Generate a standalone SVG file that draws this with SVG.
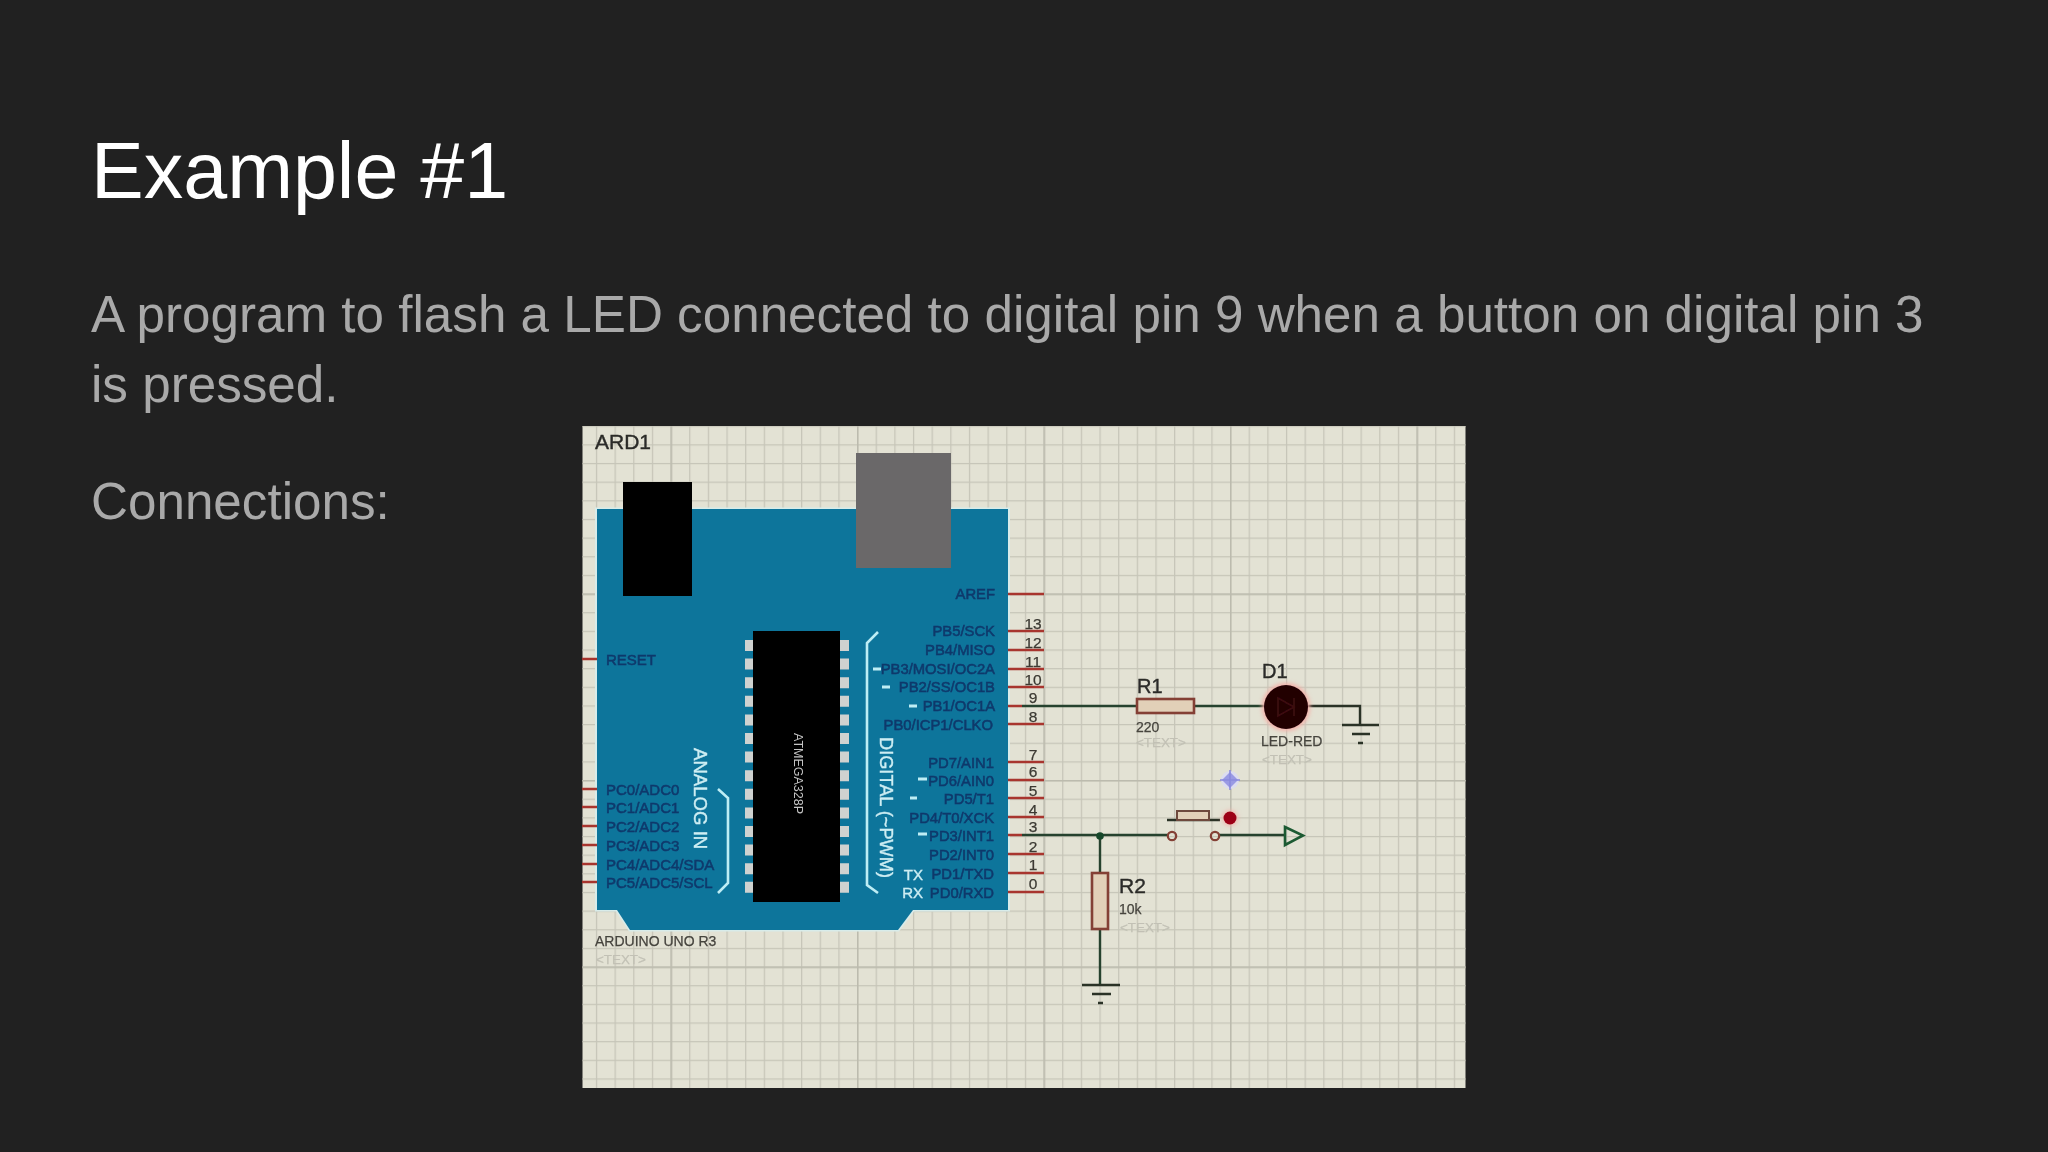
<svg xmlns="http://www.w3.org/2000/svg" width="2048" height="1152" viewBox="0 0 2048 1152">
<style>
text{font-family:"Liberation Sans",Arial,sans-serif}
.title{font-size:79px;fill:#fff}
.body{font-size:51.200px;fill:#a9a9a9}
.pn{font-size:14.8px;fill:#0a3a6c;stroke:#0a3a6c;stroke-width:.55;text-anchor:end}
.pl{font-size:15px;fill:#0a3a6c;stroke:#0a3a6c;stroke-width:.55}
.num{font-size:15.500px;fill:#3c3a33;stroke:#3c3a33;stroke-width:.25;text-anchor:middle}
.lab{font-size:14px;fill:#46443e;stroke:#46443e;stroke-width:.25}
.ref{fill:#2c2c29;stroke:#2c2c29;stroke-width:.4}
.ph{font-size:13.4px;fill:#c2c1b5;stroke:#c2c1b5;stroke-width:.25}
.wh{fill:#cdeef3;stroke:#cdeef3;stroke-width:.4}
.pin{stroke:#a8362e;stroke-width:2.6;fill:none}
.wire{stroke:#26432d;stroke-width:2.4;fill:none}
.dark{stroke:#2b3027;stroke-width:2.4;fill:none}
.br{stroke:#bdeef5;stroke-width:2.6;fill:none}
.pad{fill:#cfd2d0}
.dash{stroke:#bdeef5;stroke-width:3}
.res{fill:#e2d0b8;stroke:#843f36;stroke-width:2.6}
</style>
<defs>
<pattern id="fine" patternUnits="userSpaceOnUse" x="577.25" y="425.65" width="18.65" height="18.65"><path d="M0.5 0V18.65M0 0.5H18.65" fill="none" stroke="#c6c5b8" stroke-width="1.5"/></pattern>
<pattern id="major" patternUnits="userSpaceOnUse" x="484" y="407" width="186.5" height="186.5"><path d="M0.7 0V186.5M0 0.7H186.5" fill="none" stroke="#bcbbae" stroke-width="1.6"/></pattern>
<filter id="soft" x="-5%" y="-5%" width="110%" height="110%"><feGaussianBlur stdDeviation="0.7"/></filter>
<filter id="glow" x="-60%" y="-60%" width="220%" height="220%"><feGaussianBlur stdDeviation="2"/></filter>
</defs>
<rect width="2048" height="1152" fill="#212121"/>
<text class="title" x="91" y="198">Example #1</text>
<text class="body" x="91" y="331.500">A program to flash a LED connected to digital pin 9 when a button on digital pin 3</text>
<text class="body" x="91" y="402">is pressed.</text>
<text class="body" x="91" y="519">Connections:</text>
<g id="schematic" filter="url(#soft)">
<rect x="582.5" y="426" width="883" height="662" fill="#e3e2d4"/>
<rect x="582.5" y="426" width="883" height="662" fill="url(#fine)"/>
<rect x="582.500" y="426" width="883" height="662" fill="url(#major)"/>
<text id="ard1-ref" class="ref" x="595" y="449" font-size="21">ARD1</text>
<g id="arduino">
<path d="M595 507.500H1010V911.500H914L899 931.500H629L616 911.500H595Z" fill="#d8ecea"/>
<path d="M597 509H1008V910H913L898 930H630L617 910H597Z" fill="#11749b"/>
<rect x="623" y="482" width="69" height="114" fill="#000"/>
<rect x="856" y="453" width="95" height="115" fill="#6b6869"/>
<g class="pad">
<path d="M745 640h11v11h-11zM745 658.6h11v11h-11zM745 677.2h11v11h-11zM745 695.8h11v11h-11zM745 714.4h11v11h-11zM745 733h11v11h-11zM745 751.6h11v11h-11zM745 770.2h11v11h-11zM745 788.8h11v11h-11zM745 807.4h11v11h-11zM745 826h11v11h-11zM745 844.6h11v11h-11zM745 863.2h11v11h-11zM745 881.8h11v11h-11z"/>
<path d="M838 640h11v11h-11zM838 658.6h11v11h-11zM838 677.2h11v11h-11zM838 695.8h11v11h-11zM838 714.4h11v11h-11zM838 733h11v11h-11zM838 751.6h11v11h-11zM838 770.2h11v11h-11zM838 788.8h11v11h-11zM838 807.4h11v11h-11zM838 826h11v11h-11zM838 844.6h11v11h-11zM838 863.2h11v11h-11zM838 881.8h11v11h-11z"/>
</g>
<rect x="753" y="631" width="87" height="271" fill="#000"/>
<text transform="translate(794 733) rotate(90)" font-size="12.500" fill="#c4c4c4">ATMEGA328P</text>
<text transform="translate(694 748) rotate(90)" font-size="18.600" class="wh">ANALOG IN</text>
<text transform="translate(880 737) rotate(90)" font-size="18.200" class="wh">DIGITAL (~PWM)</text>
<path class="br" d="M878 632L867 643V885L878 893"/>
<path class="br" d="M718 789L728 798V883L718 893"/>
<path class="dash" d="M873 669h8M882 687h8M909 706h8M918 779h9M910 798h7M918 834h9"/>
<text class="wh" x="923" y="880" font-size="15" text-anchor="end">TX</text>
<text class="wh" x="923" y="898" font-size="15" text-anchor="end">RX</text>
<text class="pn" x="995" y="599">AREF</text>
<text class="pn" x="995" y="636">PB5/SCK</text>
<text class="pn" x="995" y="655">PB4/MISO</text>
<text class="pn" x="995" y="674">PB3/MOSI/OC2A</text>
<text class="pn" x="995" y="692">PB2/SS/OC1B</text>
<text class="pn" x="995" y="711">PB1/OC1A</text>
<text class="pn" x="993" y="730">PB0/ICP1/CLKO</text>
<text class="pn" x="994" y="768">PD7/AIN1</text>
<text class="pn" x="994" y="786">PD6/AIN0</text>
<text class="pn" x="994" y="804">PD5/T1</text>
<text class="pn" x="994" y="823">PD4/T0/XCK</text>
<text class="pn" x="994" y="841">PD3/INT1</text>
<text class="pn" x="994" y="860">PD2/INT0</text>
<text class="pn" x="994" y="879">PD1/TXD</text>
<text class="pn" x="994" y="898">PD0/RXD</text>
<text class="pl" x="606" y="665">RESET</text>
<text class="pl" x="606" y="795">PC0/ADC0</text>
<text class="pl" x="606" y="813">PC1/ADC1</text>
<text class="pl" x="606" y="832">PC2/ADC2</text>
<text class="pl" x="606" y="851">PC3/ADC3</text>
<text class="pl" x="606" y="870">PC4/ADC4/SDA</text>
<text class="pl" x="606" y="888">PC5/ADC5/SCL</text>
<path class="pin" d="M1008 594H1044M1008 631H1044M1008 650H1044M1008 669H1044M1008 687H1044M1008 724H1044M1008 762H1044M1008 780H1044M1008 798H1044M1008 817H1044M1008 854H1044M1008 873H1044M1008 892H1044M582 659H597M582 789H597M582 807H597M582 826H597M582 845H597M582 864H597M582 882H597"/>
<path class="pin" d="M1008 706H1022M1008 835H1022"/>
<text class="num" x="1033" y="629">13</text>
<text class="num" x="1033" y="648">12</text>
<text class="num" x="1033" y="667">11</text>
<text class="num" x="1033" y="685">10</text>
<text class="num" x="1033" y="703">9</text>
<text class="num" x="1033" y="722">8</text>
<text class="num" x="1033" y="760">7</text>
<text class="num" x="1033" y="777">6</text>
<text class="num" x="1033" y="796">5</text>
<text class="num" x="1033" y="815">4</text>
<text class="num" x="1033" y="832">3</text>
<text class="num" x="1033" y="852">2</text>
<text class="num" x="1033" y="870">1</text>
<text class="num" x="1033" y="889">0</text>
<text class="lab" x="595" y="946" font-size="14.600">ARDUINO UNO R3</text>
<text class="ph" x="596" y="964">&lt;TEXT&gt;</text>
</g>
<g id="connectors">
<path class="wire" d="M1022 706H1137M1194 706H1264"/>
<path class="dark" d="M1308 706H1360V725"/>
<path class="wire" d="M1022 835H1168M1219 835H1285"/>
<path class="wire" d="M1100 836V873M1100 929V985"/>
</g>
<g id="r1"><rect class="res" x="1137" y="699" width="57" height="14"/>
<text class="ref" x="1137" y="693" font-size="20">R1</text>
<text class="lab" x="1136" y="732">220</text>
<text class="ph" x="1136" y="747">&lt;TEXT&gt;</text></g>
<g id="d1"><circle cx="1286" cy="707" r="24" fill="#f5b0a8" filter="url(#glow)"/><circle cx="1286" cy="707" r="22" fill="#240006"/>
<path d="M1278 698L1294 707L1278 716ZM1294 698V716" fill="none" stroke="#3e0a10" stroke-width="1.6"/>
<text class="ref" x="1262" y="678" font-size="20">D1</text>
<text class="lab" x="1261" y="746" font-size="14.400">LED-RED</text>
<text class="ph" x="1262" y="764">&lt;TEXT&gt;</text></g>
<g id="gnd1"><path class="dark" d="M1342 725H1379M1352 734H1370M1358 743H1363"/></g>
<g id="probe"><circle cx="1230" cy="780" r="9" fill="#dcdcf0"/><path d="M1230 772L1238 780L1230 788L1222 780Z" fill="#9a9ae4"/><path d="M1230 770V790M1220 780H1240" stroke="#8a8add" stroke-width="1.6"/></g>
<g id="button">
<path d="M1167 820H1220" stroke="#2b3027" stroke-width="2.4"/>
<path d="M1177 820V811H1209V820Z" fill="#e2d0b8" stroke="#6e4a3c" stroke-width="2"/>
<circle cx="1230" cy="818" r="8" fill="#f0b8b0" filter="url(#glow)"/>
<circle cx="1230" cy="818" r="6.500" fill="#9c0016"/>
<circle cx="1172" cy="836" r="4.200" fill="none" stroke="#843f36" stroke-width="2.200"/>
<circle cx="1215" cy="836" r="4.200" fill="none" stroke="#843f36" stroke-width="2.200"/>
</g>
<circle id="junction" cx="1100" cy="836" r="3.800" fill="#16472a"/>
<g id="out"><path d="M1285 827L1303 835.500L1285 845Z" fill="none" stroke="#1d5a32" stroke-width="2.600"/></g>
<g id="r2"><rect class="res" x="1092" y="873" width="16" height="56"/>
<text class="ref" x="1119" y="893" font-size="21">R2</text>
<text class="lab" x="1119" y="914">10k</text>
<text class="ph" x="1120" y="932">&lt;TEXT&gt;</text></g>
<g id="gnd2"><path class="dark" d="M1082 985H1120M1092 994H1111M1098 1003H1103"/></g>
</g>
</svg>
